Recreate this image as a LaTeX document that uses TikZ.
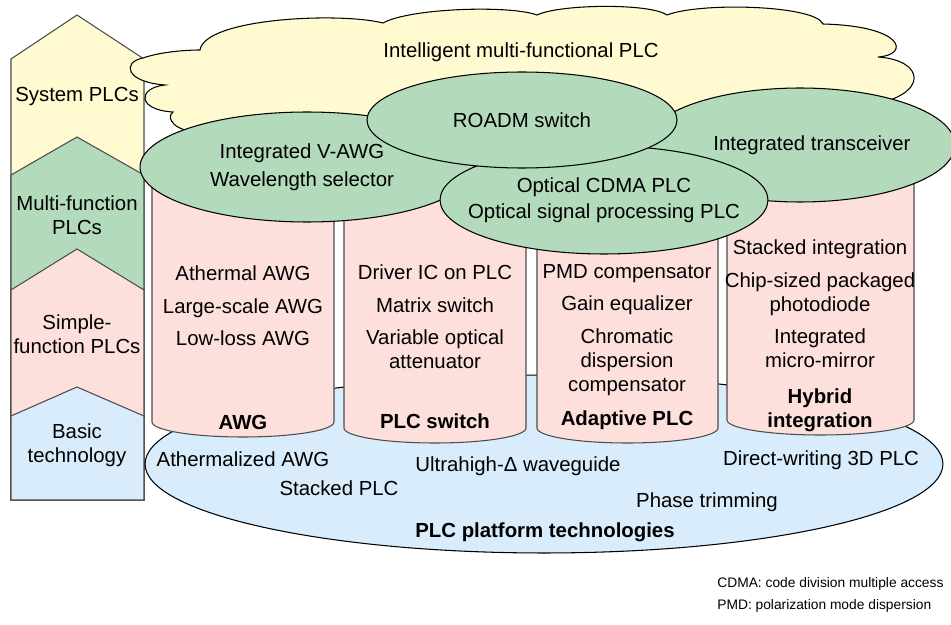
\documentclass[tikz,border=0pt]{standalone}
\usepackage{fontspec}
\setmainfont{Liberation Sans}
\usetikzlibrary{shapes.geometric}
\definecolor{sysyellow}{RGB}{255,250,208}
\definecolor{multigreen}{RGB}{178,218,187}
\definecolor{simplepink}{RGB}{253,224,220}
\definecolor{basicblue}{RGB}{216,236,251}
\def\plcfont{\fontsize{11.6}{13.7}\selectfont}
\def\notefont{\fontsize{7.85}{9.5}\selectfont}
% pink cylinder: left x, right x, y where the round bottom starts
\def\pinkcyl#1#2#3{\filldraw[cylline] (#1,180) -- (#1,#3)
  .. controls (#1,{#3+8.3}) and ({(#1+#2)/2-0.276*(#2-#1)},{#3+15}) .. ({(#1+#2)/2},{#3+15})
  .. controls ({(#1+#2)/2+0.276*(#2-#1)},{#3+15}) and (#2,{#3+8.3}) .. (#2,#3) -- (#2,180) -- cycle;}

\begin{document}
\begin{tikzpicture}[x=0.02cm,y=-0.02cm,
  every node/.style={font=\plcfont},
  stage/.style={draw=black!70,line width=0.6pt},
  cylline/.style={draw=black!70,fill=simplepink,line width=0.6pt},
  greenell/.style={ellipse,draw,fill=multigreen,line width=0.6pt,inner sep=0pt},
  txt/.style={align=center},
  hd/.style={align=center,font=\plcfont\bfseries},
  note/.style={anchor=west,inner sep=0pt,font=\notefont}]
\useasboundingbox (0,0) rectangle (951,625);
% stages on the left
\filldraw[stage,fill=sysyellow] (11,59) -- (77,15) -- (144,59) -- (144,500) -- (11,500) -- cycle;
\filldraw[stage,fill=multigreen] (11,175) -- (77,137) -- (144,175) -- (144,500) -- (11,500) -- cycle;
\filldraw[stage,fill=simplepink] (11,290) -- (77,249) -- (144,290) -- (144,500) -- (11,500) -- cycle;
\filldraw[stage,fill=basicblue] (11,416) -- (77,387) -- (144,416) -- (144,500) -- (11,500) -- cycle;
% platform
\node[ellipse,draw,fill=basicblue,line width=0.6pt,minimum width=15.96cm,minimum height=3.56cm] (platform) at (544,464) {};
\node (athermalized) at (243,459) {Athermalized AWG};
\node (stacked) at (339,488) {Stacked PLC};
\node (ultrahigh) at (518,466) {Ultrahigh-Δ waveguide};
\node (direct) at (821,460) {Direct-writing 3D PLC};
\node (phase) at (707,502) {Phase trimming};
\node[hd] (platformtext) at (545,532) {PLC platform technologies};
% cylinders
\pinkcyl{152}{334}{422}
\pinkcyl{344}{526}{428}
\pinkcyl{537}{718}{428}
\pinkcyl{727}{914}{420}
\node[txt] (awglist) at (243,306) {Athermal AWG\\[4.8pt]Large-scale AWG\\[4.8pt]Low-loss AWG};
\node[txt] (switchlist) at (435,317) {Driver IC on PLC\\[4.8pt]Matrix switch\\[4.8pt]Variable optical\\attenuator};
\node[txt] (adaptlist) at (627,330) {PMD compensator\\[4.8pt]Gain equalizer\\[4.8pt]Chromatic\\dispersion\\compensator};
\node[txt] (hybridlist) at (820,304) {Stacked integration\\[4.8pt]Chip-sized packaged\\photodiode\\[4.8pt]Integrated\\micro-mirror};
\node[hd] (awg) at (243,422) {AWG};
\node[hd] (switch) at (435,421) {PLC switch};
\node[hd] (adapt) at (627,420) {Adaptive PLC};
\node[hd] (hybrid) at (820,410) {Hybrid\\integration};
% cloud
\filldraw[draw=black,fill=sysyellow,line width=0.6pt] (143,58)
  .. controls (160,52) and (185,50) .. (200,50)
  .. controls (205,18) and (340,12) .. (383,23)
  .. controls (410,8) and (510,5) .. (537,15)
  .. controls (560,4) and (650,3) .. (667,15)
  .. controls (700,2) and (815,5) .. (823,24)
  .. controls (905,26) and (910,55) .. (878,57)
  .. controls (925,60) and (930,95) .. (870,105)
  .. controls (700,125) and (400,138) .. (200,132)
  .. controls (175,132) and (165,118) .. (173,112)
  .. controls (137,110) and (137,88) .. (165,85)
  .. controls (125,82) and (122,62) .. (143,58) -- cycle;
\node (cloudtext) at (521,52) {Intelligent multi-functional PLC};
\node[txt] (sys) at (77,97) {System PLCs};
\node[txt] (multi) at (77,215) {Multi-function\\PLCs};
\node[txt] (simple) at (77,334) {Simple-\\function PLCs};
\node[txt] (basic) at (77,445) {Basic\\technology};
% system ellipses
\node[greenell,minimum width=6.68cm,minimum height=2.2cm,
  label={[align=center,xshift=-0.1cm]center:Integrated V-AWG\\[2pt]Wavelength selector}] (vawg) at (307,167) {};
\node[greenell,minimum width=6.2cm,minimum height=2.28cm,
  label={[xshift=0.24cm]center:Integrated transceiver}] (trx) at (800,145) {};
\node[greenell,minimum width=6.56cm,minimum height=2.16cm,
  label={[align=center]center:Optical CDMA PLC\\[1pt]Optical signal processing PLC}] (cdma) at (604,200) {};
\node[greenell,minimum width=6.2cm,minimum height=1.92cm,
  label=center:ROADM switch] (roadm) at (522,120) {};
% notes
\node[note] (cdmanote) at (717,584) {CDMA: code division multiple access};
\node[note] (pmdnote) at (717,606) {PMD: polarization mode dispersion};
\end{tikzpicture}
\end{document}
